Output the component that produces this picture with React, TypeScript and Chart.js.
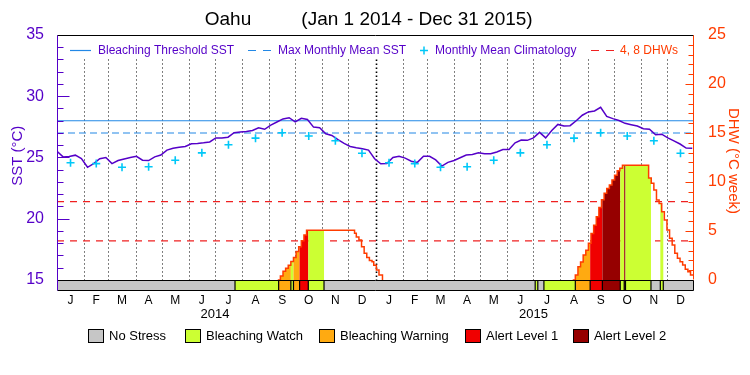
import React, { useEffect, useRef } from 'react';
import { Chart, registerables } from 'chart.js';

Chart.register(...registerables);

const FONT = "'Liberation Sans', Arial, sans-serif";

// ---------- text ----------
const titlePlace = 'Oahu';
const titlePeriod = '(Jan 1 2014 - Dec 31 2015)';
const sstAxisTitle = 'SST (°C)';
const dhwAxisTitle = 'DHW (°C week)';
const monthLetters = ['J', 'F', 'M', 'A', 'M', 'J', 'J', 'A', 'S', 'O', 'N', 'D'];
const yearLabels = ['2014', '2015'];
const yearLabelDays = [181, 546];
const stressNames = ['No Stress', 'Bleaching Watch', 'Bleaching Warning', 'Alert Level 1', 'Alert Level 2'];

// ---------- calendar (days since Jan 1 2014) ----------
const monthStartDays = [0, 31, 59, 90, 120, 151, 181, 212, 243, 273, 304, 334,
  365, 396, 424, 455, 485, 516, 546, 577, 608, 638, 669, 699, 730];

// ---------- axis ranges / ticks ----------
const sstMin = 14.1;
const sstMax = 35;
const sstTickLabels = [15, 20, 25, 30, 35];
const dhwMin = -1.12;
const dhwMax = 25;
const dhwTickLabels = [0, 5, 10, 15, 20, 25];

// ---------- data ----------
const sstStepDays = 7;
const sstWeekly = [
  25.5, 25.05, 25.08, 25.19, 24.92, 24.2, 24.5, 24.9, 25.0, 24.5,
  24.75, 24.88, 25.0, 25.1, 24.78, 24.75, 25.05, 25.2, 25.6, 25.75,
  25.83, 25.9, 26.12, 26.15, 26.2, 26.27, 26.6, 26.6, 26.66, 27.02,
  27.08, 27.12, 27.2, 27.42, 27.3, 27.65, 27.9, 28.15, 28.25, 27.9,
  28.2, 28.1, 27.48, 27.43, 26.94, 26.8, 26.45, 26.15, 25.9, 25.8,
  25.72, 25.6, 24.9, 24.48, 24.5, 25.0, 25.1, 24.95, 24.7, 24.6,
  25.1, 25.1, 24.8, 24.3, 24.6, 24.75, 24.98, 25.2, 25.25, 25.38,
  25.3, 25.3, 25.45, 25.65, 25.65, 26.2, 26.42, 26.4, 26.6, 27.05,
  26.6, 27.2, 27.7, 27.57, 27.6, 28.0, 28.45, 28.72, 28.8, 29.1,
  28.35, 28.17, 28.02, 27.79, 27.68, 27.57, 27.35, 27.3, 26.85, 26.9,
  26.6, 26.35, 26.1, 25.77, 25.75,
];
const climatology = [24.57, 24.5, 24.2, 24.24, 24.78, 25.38, 26.04, 26.58, 27.02, 26.75, 26.37, 25.35];
const bleachingThreshold = 28.0;
const maxMonthlyMean = 27.0;
const dhwLevels = [4, 8];

const dhwDays2014 = [253, 256, 259, 262, 265, 268, 271, 274, 277, 280, 283, 286,
  341, 343, 346, 349, 352, 355, 358, 361, 363, 366, 369, 373];
const dhwValues2014 = [0, 0.4, 0.9, 1.2, 1.5, 1.9, 2.3, 2.9, 3.4, 4.0, 4.6, 5.07,
  4.76, 4.4, 4.08, 3.4, 2.72, 2.3, 2.0, 1.87, 1.5, 1.02, 0.51, 0];
const dhwDays2015 = [591, 594, 597, 600, 603, 606, 609, 612, 615, 618, 621, 624, 627, 630, 633, 636, 639, 642, 645, 648,
  678, 681, 684, 687, 690, 693, 696, 699, 702, 705, 708, 711, 714, 717, 720, 723, 726, 730];
const dhwValues2015 = [0, 0.5, 1.35, 1.85, 2.55, 3.05, 3.75, 4.75, 5.6, 6.45, 7.4, 8.2, 8.85, 9.35, 9.7, 10.2, 10.7, 11.15, 11.4, 11.7,
  10.4, 9.87, 9.18, 8.16, 7.82, 6.97, 6.12, 5.1, 4.25, 3.57, 2.72, 2.21, 1.87, 1.53, 1.09, 0.85, 0.51, 0.51];

// stress level periods (start day, level 0..4)
const stressStartDays = [0, 204, 254, 268, 271, 278, 288, 306, 548, 551, 558, 594, 611, 625, 645.5, 650, 651.5, 680.7, 691.4, 694.8];
const stressLevels = [0, 1, 2, 1, 2, 3, 1, 0, 1, 0, 1, 2, 3, 4, 1, 4, 1, 0, 1, 0];

// ---------- styles ----------
const PURPLE = '#5500c8';
const BLUE = '#2288e6';
const CYAN = '#00c8f8';
const RED = '#f02020';
const ORANGE_RED = '#ff3c00';
const stressColors = ['#c6c6c6', '#ccff33', '#ffaa11', '#f00000', '#960000'];

const dayEnd = monthStartDays[monthStartDays.length - 1];
const monthMids = monthStartDays.slice(0, -1).map((d, i) => (d + monthStartDays[i + 1]) / 2);
const sstPoints = sstWeekly.map((v, i) => ({ x: i * sstStepDays, y: v }));
const climPoints = monthMids.map((d, i) => ({ x: d, y: climatology[i % 12] }));
const dhwRuns: [number[], number[]][] = [[dhwDays2014, dhwValues2014], [dhwDays2015, dhwValues2015]];
const dhwPoints: any[] = [];
dhwRuns.forEach(([days, vals], r) => {
  if (r > 0) dhwPoints.push({ x: (dhwRuns[r - 1][0][dhwRuns[r - 1][0].length - 1] + days[0]) / 2, y: null });
  days.forEach((d, i) => dhwPoints.push({ x: d, y: vals[i] }));
});

const hline = (v: number) => [{ x: 0, y: v }, { x: dayEnd, y: v }];

const decorPlugin = {
  id: 'decor',
  beforeDatasetsDraw(chart: any) {
    const { ctx, scales } = chart;
    const { x, y, y2 } = scales;
    const top = y.getPixelForValue(33.0);
    const bot = y2.getPixelForValue(0);
    ctx.save();
    ctx.strokeStyle = '#000';
    for (let i = 1; i < monthStartDays.length - 1; i++) {
      const d = monthStartDays[i];
      const isYear = d === 365;
      const px = Math.round(x.getPixelForValue(d)) + 0.5;
      ctx.lineWidth = isYear ? 1.6 : 1;
      ctx.setLineDash(isYear ? [1.5, 2.5] : [1, 3]);
      ctx.beginPath();
      ctx.moveTo(px, top);
      ctx.lineTo(px, bot);
      ctx.stroke();
    }
    ctx.restore();
  },
  beforeDatasetDraw(chart: any, args: any) {
    if (args.index !== 0) return;
    const { ctx, chartArea, scales } = chart;
    const { x, y2 } = scales;
    const base = y2.getPixelForValue(0);
    const buildPath = () => {
      ctx.beginPath();
      for (const [days, vals] of dhwRuns) {
        ctx.moveTo(x.getPixelForValue(days[0]), base);
        for (let i = 0; i < days.length; i++) {
          const px = x.getPixelForValue(days[i]);
          const nx = x.getPixelForValue(i + 1 < days.length ? days[i + 1] : days[i]);
          const py = y2.getPixelForValue(vals[i]);
          ctx.lineTo(px, py);
          ctx.lineTo(nx, py);
        }
        ctx.lineTo(x.getPixelForValue(days[days.length - 1]), base);
        ctx.closePath();
      }
    };
    for (let s = 0; s < stressStartDays.length; s++) {
      const lvl = stressLevels[s];
      if (lvl === 0) continue;
      const x0 = x.getPixelForValue(stressStartDays[s]);
      const x1 = x.getPixelForValue(s + 1 < stressStartDays.length ? stressStartDays[s + 1] : dayEnd);
      ctx.save();
      ctx.beginPath();
      ctx.rect(x0, chartArea.top, x1 - x0, base - chartArea.top);
      ctx.clip();
      buildPath();
      ctx.fillStyle = stressColors[lvl];
      ctx.fill();
      ctx.restore();
    }
  },
  afterDatasetsDraw(chart: any) {
    const { ctx, chartArea, scales } = chart;
    const { x, y, y2 } = scales;
    const { left, right, top, bottom } = chartArea;
    const base = Math.round(y2.getPixelForValue(0)) + 0.5;
    const L = Math.round(left) + 0.5;
    const R = Math.round(right) - 0.5;
    const T = Math.round(top) + 0.5;
    const B = Math.round(bottom) - 0.5;
    ctx.save();

    // stress bar
    for (let s = 0; s < stressStartDays.length; s++) {
      const x0 = x.getPixelForValue(stressStartDays[s]);
      const x1 = x.getPixelForValue(s + 1 < stressStartDays.length ? stressStartDays[s + 1] : dayEnd);
      ctx.fillStyle = stressColors[stressLevels[s]];
      ctx.fillRect(x0, base, x1 - x0, B - base);
    }
    ctx.strokeStyle = '#000';
    ctx.lineWidth = 1.2;
    for (let s = 1; s < stressStartDays.length; s++) {
      const px = x.getPixelForValue(stressStartDays[s]);
      ctx.beginPath();
      ctx.moveTo(px, base);
      ctx.lineTo(px, B);
      ctx.stroke();
    }

    // axis ticks
    ctx.lineWidth = 1;
    ctx.strokeStyle = PURPLE;
    for (let v = 15; v <= 35; v++) {
      const py = Math.round(y.getPixelForValue(v)) + 0.5;
      const len = v % 5 === 0 ? 12 : 6;
      ctx.beginPath();
      ctx.moveTo(L, py);
      ctx.lineTo(L + len, py);
      ctx.stroke();
    }
    ctx.strokeStyle = ORANGE_RED;
    for (let v = 0; v <= 25; v++) {
      const py = Math.round(y2.getPixelForValue(v)) + 0.5;
      const len = v % 5 === 0 ? 8 : 5;
      ctx.beginPath();
      ctx.moveTo(R - len, py);
      ctx.lineTo(R, py);
      ctx.stroke();
    }

    // frame
    ctx.strokeStyle = '#000';
    ctx.beginPath();
    ctx.moveTo(L, T); ctx.lineTo(R, T);
    ctx.moveTo(L, base); ctx.lineTo(R, base);
    ctx.moveTo(L, B); ctx.lineTo(R, B);
    ctx.moveTo(R, base); ctx.lineTo(R, B);
    ctx.stroke();
    ctx.strokeStyle = PURPLE;
    ctx.beginPath(); ctx.moveTo(L, T); ctx.lineTo(L, B); ctx.stroke();
    ctx.strokeStyle = ORANGE_RED;
    ctx.beginPath(); ctx.moveTo(R, T); ctx.lineTo(R, base - 1); ctx.stroke();

    // title
    ctx.fillStyle = '#000';
    ctx.textBaseline = 'middle';
    ctx.textAlign = 'center';
    ctx.font = `19px ${FONT}`;
    ctx.fillText(titlePlace, 228, 20);
    ctx.fillText(titlePeriod, 417, 20);

    // top legend
    const ly = 50.5;
    ctx.font = `12px ${FONT}`;
    ctx.textAlign = 'left';
    ctx.lineWidth = 1.2;
    ctx.strokeStyle = BLUE;
    ctx.beginPath(); ctx.moveTo(70, ly); ctx.lineTo(91, ly); ctx.stroke();
    ctx.fillStyle = PURPLE;
    ctx.fillText('Bleaching Threshold SST', 98, ly);
    ctx.beginPath();
    ctx.moveTo(248, ly); ctx.lineTo(256, ly);
    ctx.moveTo(263, ly); ctx.lineTo(271, ly);
    ctx.stroke();
    ctx.fillText('Max Monthly Mean SST', 278, ly);
    ctx.strokeStyle = CYAN;
    ctx.lineWidth = 1.5;
    ctx.beginPath();
    ctx.moveTo(420, ly); ctx.lineTo(428, ly);
    ctx.moveTo(424, ly - 4); ctx.lineTo(424, ly + 4);
    ctx.stroke();
    ctx.fillText('Monthly Mean Climatology', 435, ly);
    ctx.strokeStyle = RED;
    ctx.lineWidth = 1.2;
    ctx.beginPath();
    ctx.moveTo(591, ly); ctx.lineTo(599, ly);
    ctx.moveTo(606, ly); ctx.lineTo(614, ly);
    ctx.stroke();
    ctx.fillStyle = ORANGE_RED;
    ctx.fillText('4, 8 DHWs', 620, ly);

    // axis titles
    ctx.font = `15px ${FONT}`;
    ctx.textAlign = 'center';
    ctx.fillStyle = PURPLE;
    ctx.save();
    ctx.translate(18, (top + base) / 2 - 2);
    ctx.rotate(-Math.PI / 2);
    ctx.fillText(sstAxisTitle, 0, 0);
    ctx.restore();
    ctx.fillStyle = ORANGE_RED;
    ctx.save();
    ctx.translate(733, 161);
    ctx.rotate(Math.PI / 2);
    ctx.fillText(dhwAxisTitle, 0, 0);
    ctx.restore();

    // year labels
    ctx.fillStyle = '#000';
    ctx.font = `13px ${FONT}`;
    yearLabels.forEach((t, i) => ctx.fillText(t, x.getPixelForValue(yearLabelDays[i]), 314));

    // bottom legend
    const boxX = [88, 185, 319, 465, 573];
    ctx.textAlign = 'left';
    ctx.lineWidth = 1;
    stressNames.forEach((name, i) => {
      ctx.fillStyle = stressColors[i];
      ctx.fillRect(boxX[i] + 0.5, 329.5, 15, 13);
      ctx.strokeStyle = '#000';
      ctx.strokeRect(boxX[i] + 0.5, 329.5, 15, 13);
      ctx.fillStyle = '#000';
      ctx.fillText(name, boxX[i] + 21, 336.5);
    });
    ctx.restore();
  },
};

export default function App() {
  const ref = useRef<HTMLCanvasElement>(null);
  useEffect(() => {
    document.body.style.margin = '0';
    const canvas = ref.current!;
    const chart = new Chart(canvas, {
      type: 'line',
      data: {
        datasets: [
          { label: 'DHW', data: dhwPoints, yAxisID: 'y2', borderColor: ORANGE_RED, borderWidth: 1.5, pointRadius: 0, stepped: true, spanGaps: false, order: 0 } as any,
          { label: 'Monthly Mean Climatology', data: climPoints, yAxisID: 'y', showLine: false, pointStyle: 'cross', pointRadius: 4, pointBorderWidth: 1.6, borderColor: CYAN, pointBorderColor: CYAN, order: 1 },
          { label: 'SST', data: sstPoints, yAxisID: 'y', borderColor: PURPLE, borderWidth: 1.5, pointRadius: 0, order: 2 },
          { label: '4 DHW', data: hline(dhwLevels[0]), yAxisID: 'y2', borderColor: RED, borderWidth: 1.2, borderDash: [7, 6], pointRadius: 0, order: 3 },
          { label: '8 DHW', data: hline(dhwLevels[1]), yAxisID: 'y2', borderColor: RED, borderWidth: 1.2, borderDash: [7, 6], pointRadius: 0, order: 4 },
          { label: 'Max Monthly Mean SST', data: hline(maxMonthlyMean), yAxisID: 'y', borderColor: BLUE, borderWidth: 1.2, borderDash: [7, 4], pointRadius: 0, order: 5 },
          { label: 'Bleaching Threshold SST', data: hline(bleachingThreshold), yAxisID: 'y', borderColor: BLUE, borderWidth: 1.2, pointRadius: 0, order: 6 },
        ],
      },
      options: {
        responsive: false,
        animation: false,
        events: [],
        layout: { padding: { top: 35, left: 0, right: 0, bottom: 0 } },
        plugins: { legend: { display: false }, tooltip: { enabled: false }, title: { display: false } },
        scales: {
          x: {
            type: 'linear', position: 'bottom', min: 0, max: dayEnd,
            grid: { display: false }, border: { display: false },
            afterBuildTicks: (s: any) => { s.ticks = monthMids.map((v) => ({ value: v })); },
            afterFit: (s: any) => { s.height = 84; },
            ticks: {
              autoSkip: false, maxRotation: 0, color: '#000', padding: -4,
              font: { family: FONT, size: 12, lineHeight: 1 },
              callback: (_v: any, i: number) => monthLetters[i % 12],
            },
          },
          y: {
            type: 'linear', position: 'left', min: sstMin, max: sstMax,
            grid: { display: false }, border: { display: false },
            afterBuildTicks: (s: any) => { s.ticks = sstTickLabels.map((v) => ({ value: v })); },
            afterFit: (s: any) => { s.width = 57; },
            ticks: { autoSkip: false, color: PURPLE, padding: 5, font: { family: FONT, size: 16 }, callback: (v: any) => String(v) },
          },
          y2: {
            type: 'linear', position: 'right', min: dhwMin, max: dhwMax,
            grid: { display: false }, border: { display: false },
            afterBuildTicks: (s: any) => { s.ticks = dhwTickLabels.map((v) => ({ value: v })); },
            afterFit: (s: any) => { s.width = 56; },
            ticks: { autoSkip: false, color: ORANGE_RED, padding: 6, font: { family: FONT, size: 16 }, callback: (v: any) => String(v) },
          },
        },
      } as any,
      plugins: [decorPlugin],
    });
    return () => chart.destroy();
  }, []);
  return (
    <div style={{ width: 750, height: 375, position: 'relative', background: '#fff' }}>
      <canvas ref={ref} width={750} height={375} style={{ display: 'block' }} />
    </div>
  );
}
